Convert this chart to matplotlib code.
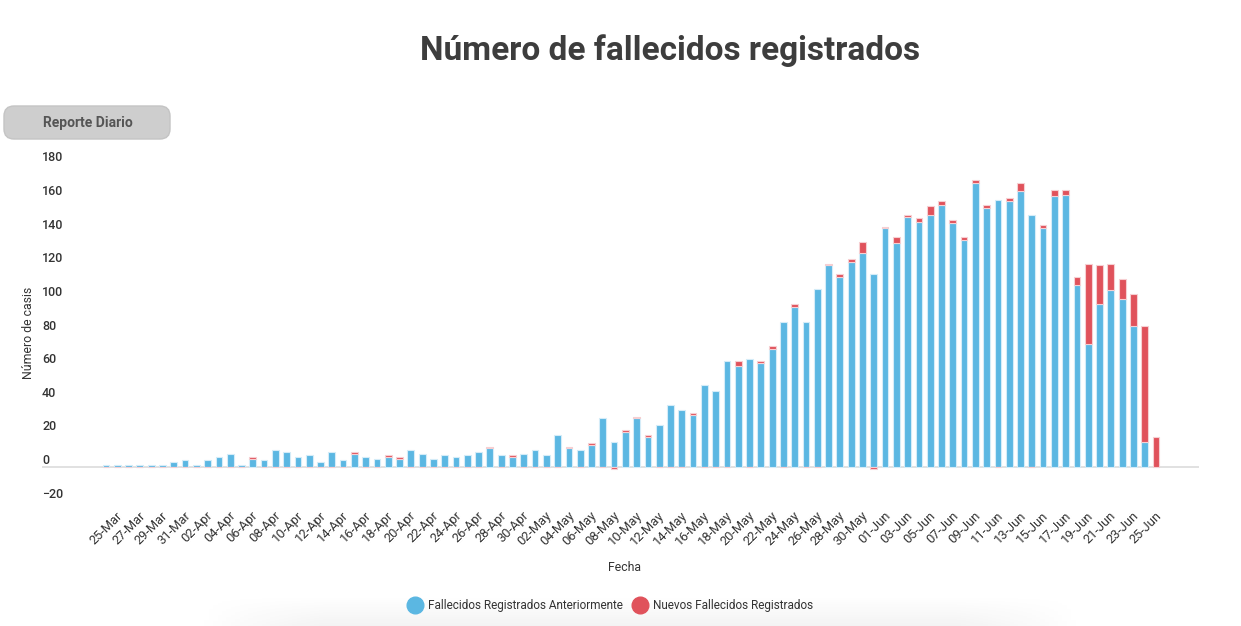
import matplotlib
matplotlib.use("Agg")
import matplotlib.pyplot as plt
import matplotlib.transforms as mtransforms
from matplotlib.patches import FancyBboxPatch
from matplotlib.lines import Line2D
import numpy as np
import pandas as pd

# daily deaths, 25-Mar .. 26-Jun
fechas = pd.date_range("2020-03-25", periods=94).strftime("%d-%b").tolist()
anteriores = [1, 1, 1, 1, 1, 1, 3, 4, 1, 4, 6, 8, 1, 5, 4, 10, 9, 6, 7, 3,
              9, 4, 8, 6, 5, 6, 5, 10, 8, 5, 7, 6, 7, 9, 11, 7, 6, 8, 10, 7,
              19, 11, 10, 13, 29, 15, 21, 29, 18, 25, 37, 34, 31, 49, 45, 63, 60, 64, 62, 70,
              86, 95, 86, 106, 120, 113, 122, 127, 115, 142, 133, 149, 146, 150, 156, 145, 135, 169, 154, 159,
              158, 164, 150, 142, 161, 162, 108, 73, 97, 105, 100, 84, 15, 0]
nuevos = [0, 0, 0, 0, 0, 0, 0, 0, 0, 0, 0, 0, 0, 1, 0, 0, 0, 0, 0, 0,
          0, 0, 1, 0, 0, 1, 1, 0, 0, 0, 0, 0, 0, 0, 1, 0, 1, 0, 0, 0,
          0, 1, 0, 1, 0, -1, 1, 1, 1, 0, 0, 0, 1, 0, 0, 0, 3, 0, 1, 2,
          0, 2, 0, 0, 1, 2, 2, 7, -1, 1, 4, 1, 2, 5, 2, 2, 2, 2, 2, 0,
          2, 5, 0, 2, 4, 3, 5, 48, 23, 16, 12, 19, 69, 18]

azul = "#5bb7e2"
rojo = "#e0525b"
gris = "#333333"
fuente = "Roboto"
plt.rcParams["font.family"] = [fuente, "DejaVu Sans"]

fig = plt.figure(figsize=(12.41, 6.26), dpi=100)

# faint shadow under the legend
sombra = fig.add_axes([200 / 1241, 0, 880 / 1241, 30 / 626], zorder=0)
gy = np.linspace(0, 1, 30)[:, None]
gx = np.linspace(-1, 1, 200)[None, :]
alpha = (1 - gy) * 0.10 * np.clip(1.6 * (1 - np.abs(gx) ** 3), 0, 1)
rgba = np.zeros((30, 200, 4))
rgba[..., :3] = 0.55
rgba[..., 3] = alpha
sombra.imshow(rgba, aspect="auto", origin="lower")
sombra.axis("off")

ax = fig.add_axes([42 / 1241, 1 - 500.6 / 626, 1157 / 1241, 336.2 / 626])

x = np.arange(len(fechas))
prev = np.array(anteriores)
new = np.array(nuevos)
ax.bar(x, prev, width=0.6, color=azul, edgecolor="#d4ecf8", linewidth=0.8, zorder=2)
ax.bar(x, new, bottom=np.where(new > 0, prev, 0), width=0.6, color=rojo,
       edgecolor="#f6cfd2", linewidth=0.8, zorder=2)

ax.axhline(0, color="#dcdcdc", linewidth=1.2, zorder=1)
ax.set_xlim(-5.67, 96.81)
ax.set_ylim(-20, 180)
for s in ax.spines.values():
    s.set_visible(False)

# y axis labels drawn inside, sitting just above their value
ax.set_yticks(range(-20, 181, 20))
ax.tick_params(axis="y", length=0, pad=0, labelsize=9, labelcolor=gris)
for lab in ax.get_yticklabels():
    lab.set_ha("left")
    lab.set_va("bottom")
    lab.set_fontweight("medium")

ax.set_xticks(x[::2])
ax.set_xticklabels(fechas[::2])
ax.tick_params(axis="x", length=0, pad=6, labelsize=9.3, labelcolor=gris)
right = mtransforms.ScaledTranslation(0.10, 0, fig.dpi_scale_trans)
for lab in ax.get_xticklabels():
    lab.set_rotation(45)
    lab.set_ha("right")
    lab.set_va("top")
    lab.set_rotation_mode("anchor")
    lab.set_transform(lab.get_transform() + right)

ax.set_ylabel("Número de casis", fontsize=8.8, color=gris)
ax.yaxis.set_label_coords(-0.006, 0.5)
ax.set_xlabel("Fecha", fontsize=8.8, color=gris)
ax.xaxis.set_label_coords(0.5035, -0.18)

fig.text(670 / 1241, 1 - 51 / 626, "Número de fallecidos registrados",
         ha="center", va="center", fontsize=24, fontweight="bold", color="#3d3d3d")

# "Reporte Diario" button
boton = FancyBboxPatch((0.04, 4.87), 1.66, 0.33, boxstyle="round,pad=0,rounding_size=0.1",
                       transform=fig.dpi_scale_trans, facecolor="#cecece",
                       edgecolor="#c4c4c4", linewidth=1)
fig.patches.append(boton)
fig.text(88 / 1241, 1 - 123 / 626, "Reporte Diario", ha="center", va="center",
         fontsize=10, fontweight="bold", color="#555555")

handles = [Line2D([], [], marker="o", linestyle="", markersize=12, color=azul),
           Line2D([], [], marker="o", linestyle="", markersize=12, color=rojo)]
fig.legend(handles, ["Fallecidos Registrados Anteriormente", "Nuevos Fallecidos Registrados"],
           loc="center", bbox_to_anchor=(611 / 1241, 1 - 606 / 626), ncol=2, frameon=False,
           fontsize=8.5, labelcolor=gris, handletextpad=0.6, columnspacing=1.0, handlelength=1.0)

fig.savefig("out.png", dpi=100)
